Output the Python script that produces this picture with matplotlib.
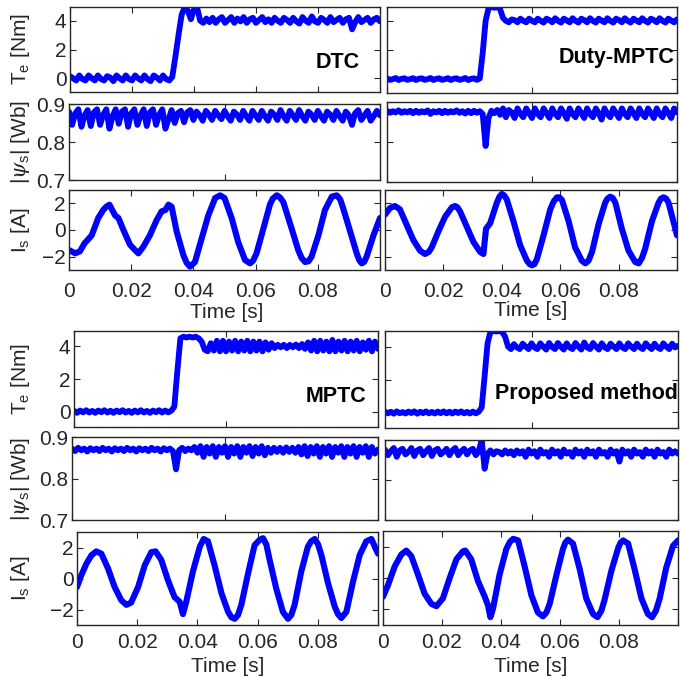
import numpy as np
import matplotlib
matplotlib.use('Agg')
import matplotlib.pyplot as plt

plt.rcParams['font.family'] = ['Liberation Sans', 'DejaVu Sans']
plt.rcParams['mathtext.fontset'] = 'custom'
plt.rcParams['mathtext.rm'] = 'Liberation Sans'
plt.rcParams['mathtext.it'] = 'DejaVu Serif:italic'

# ---------------- data ----------------
methods = ['DTC', 'Duty-MPTC', 'MPTC', 'Proposed method']
t_fine = np.round(np.arange(101) * 0.001, 3)   # sampling grid for torque / flux

te_dtc = [0.15, 0.00, -0.15, 0.20, -0.05, -0.15, 0.20, 0.00, -0.15, 0.20,
          -0.05, -0.15, 0.15, 0.05, -0.20, 0.20, 0.00, -0.15, 0.20, -0.05,
          -0.15, 0.20, 0.00, -0.15, 0.20, -0.05, -0.20, 0.20, 0.05, -0.15,
          0.20, -0.05, -0.15, 0.10, 1.50, 3.00, 4.40, 4.95, 4.70, 4.10,
          4.80, 4.90, 4.00, 3.85, 4.15, 3.90, 4.20, 3.85, 4.10, 4.25,
          3.85, 4.05, 4.25, 3.85, 4.15, 3.95, 4.25, 3.85, 4.10, 4.20,
          3.85, 4.05, 4.25, 3.90, 4.10, 3.85, 4.20, 4.00, 3.85, 4.20,
          4.05, 3.85, 4.20, 3.95, 3.80, 4.25, 4.00, 3.85, 4.30, 3.95,
          3.85, 4.20, 4.05, 3.85, 4.25, 3.90, 4.05, 4.20, 3.85, 4.10,
          4.20, 3.40, 3.90, 4.25, 3.90, 4.05, 4.20, 3.85, 4.10, 4.20, 3.95]
te_duty = [0.05, -0.05, 0.00, 0.08, -0.06, 0.02, 0.06, -0.05, 0.00, 0.07,
           -0.06, 0.03, 0.06, -0.05, 0.00, 0.08, -0.06, 0.02, 0.06, -0.05,
           0.00, 0.07, -0.06, 0.03, 0.06, -0.05, 0.00, 0.08, -0.06, 0.02,
           0.06, -0.05, 0.05, 1.80, 4.00, 4.85, 4.95, 4.90, 4.95, 4.80,
           4.20, 4.00, 3.90, 4.10, 4.05, 3.90, 4.15, 4.00, 3.90, 4.15,
           4.00, 3.90, 4.15, 4.00, 3.88, 4.15, 4.05, 3.90, 4.18, 4.00,
           3.88, 4.15, 4.02, 3.90, 4.18, 4.00, 3.88, 4.15, 4.05, 3.90,
           4.18, 4.00, 3.88, 4.15, 4.02, 3.90, 4.18, 4.00, 3.88, 4.15,
           4.05, 3.90, 4.18, 4.00, 3.88, 4.15, 4.02, 3.90, 4.18, 4.00,
           3.88, 4.15, 4.05, 3.90, 4.18, 4.00, 3.88, 4.15, 4.02, 3.90, 4.10]
te_mptc = [0.05, -0.08, 0.06, -0.05, 0.08, -0.06, 0.04, -0.08, 0.06, -0.04,
           0.08, -0.06, 0.05, -0.08, 0.06, -0.04, 0.08, -0.06, 0.04, -0.08,
           0.06, -0.05, 0.08, -0.06, 0.04, -0.08, 0.06, -0.04, 0.08, -0.06,
           0.06, -0.05, 0.05, 0.30, 2.50, 4.50, 4.60, 4.55, 4.60, 4.55,
           4.60, 4.50, 4.30, 3.80, 3.70, 4.20, 3.75, 4.35, 3.70, 4.35,
           3.70, 4.30, 3.75, 4.35, 3.70, 4.30, 3.75, 4.35, 3.70, 4.30,
           3.75, 4.30, 3.70, 4.25, 3.80, 4.20, 3.90, 4.10, 3.95, 4.10,
           3.90, 4.10, 3.95, 4.12, 3.90, 4.15, 3.85, 4.25, 3.75, 4.35,
           3.70, 4.35, 3.75, 4.30, 3.70, 4.40, 3.70, 4.30, 3.75, 4.35,
           3.70, 4.30, 3.75, 4.35, 3.70, 4.25, 3.80, 4.35, 3.70, 4.30, 3.85]
te_prop = [0.05, -0.06, 0.04, -0.08, 0.06, -0.05, 0.02, -0.07, 0.05, -0.04,
           0.06, -0.08, 0.04, -0.05, 0.06, -0.06, 0.03, -0.07, 0.05, -0.05,
           0.06, -0.06, 0.04, -0.07, 0.05, -0.04, 0.06, -0.06, 0.03, -0.07,
           0.05, -0.06, 0.04, 0.30, 2.20, 4.20, 4.90, 4.95, 4.92, 4.95,
           4.90, 4.60, 4.00, 3.85, 4.15, 3.95, 3.85, 4.18, 4.00, 3.85,
           4.20, 3.95, 3.85, 4.20, 4.00, 3.82, 4.22, 3.98, 3.85, 4.22,
           4.00, 3.82, 4.20, 3.95, 3.85, 4.22, 4.00, 3.82, 4.25, 3.95,
           3.85, 4.22, 4.00, 3.82, 4.20, 3.95, 3.85, 4.18, 4.00, 3.85,
           4.20, 3.95, 3.85, 4.20, 4.00, 3.85, 4.18, 3.95, 3.85, 4.20,
           4.00, 3.85, 4.18, 3.95, 3.85, 4.20, 4.00, 3.85, 4.18, 3.95, 4.05]

psi_dtc = [0.880, 0.845, 0.875, 0.886, 0.840, 0.870, 0.884, 0.842, 0.878, 0.886,
           0.845, 0.872, 0.886, 0.835, 0.868, 0.886, 0.848, 0.880, 0.886, 0.840,
           0.875, 0.886, 0.845, 0.870, 0.886, 0.842, 0.878, 0.886, 0.845, 0.872,
           0.886, 0.835, 0.860, 0.884, 0.850, 0.876, 0.882, 0.852, 0.878, 0.884,
           0.858, 0.880, 0.870, 0.856, 0.882, 0.872, 0.858, 0.882, 0.870, 0.860,
           0.882, 0.868, 0.856, 0.880, 0.872, 0.858, 0.882, 0.868, 0.856, 0.882,
           0.870, 0.858, 0.882, 0.868, 0.856, 0.880, 0.872, 0.858, 0.884, 0.868,
           0.856, 0.882, 0.870, 0.858, 0.884, 0.868, 0.856, 0.880, 0.872, 0.858,
           0.882, 0.868, 0.856, 0.880, 0.872, 0.858, 0.882, 0.868, 0.856, 0.880,
           0.870, 0.845, 0.876, 0.884, 0.858, 0.870, 0.882, 0.856, 0.868, 0.882, 0.870]
psi_duty = [0.878, 0.873, 0.877, 0.874, 0.879, 0.873, 0.877, 0.874, 0.878, 0.872,
            0.878, 0.873, 0.877, 0.874, 0.879, 0.870, 0.877, 0.874, 0.878, 0.872,
            0.878, 0.873, 0.877, 0.874, 0.879, 0.873, 0.877, 0.871, 0.878, 0.872,
            0.878, 0.873, 0.877, 0.870, 0.790, 0.860, 0.878, 0.872, 0.880, 0.868,
            0.884, 0.862, 0.880, 0.874, 0.860, 0.884, 0.870, 0.862, 0.884, 0.872,
            0.860, 0.884, 0.870, 0.862, 0.884, 0.872, 0.860, 0.884, 0.870, 0.862,
            0.884, 0.872, 0.858, 0.884, 0.870, 0.862, 0.884, 0.872, 0.860, 0.884,
            0.870, 0.862, 0.884, 0.872, 0.856, 0.884, 0.870, 0.862, 0.884, 0.872,
            0.860, 0.884, 0.870, 0.862, 0.884, 0.872, 0.860, 0.884, 0.870, 0.862,
            0.884, 0.872, 0.860, 0.884, 0.870, 0.862, 0.884, 0.872, 0.860, 0.884, 0.874]
psi_mptc = [0.872, 0.866, 0.874, 0.868, 0.872, 0.865, 0.873, 0.868, 0.872, 0.866,
            0.874, 0.868, 0.872, 0.865, 0.873, 0.868, 0.872, 0.866, 0.874, 0.868,
            0.872, 0.865, 0.873, 0.868, 0.872, 0.866, 0.874, 0.868, 0.872, 0.865,
            0.873, 0.868, 0.872, 0.866, 0.822, 0.868, 0.874, 0.866, 0.872, 0.868,
            0.876, 0.862, 0.878, 0.852, 0.876, 0.860, 0.878, 0.852, 0.876, 0.862,
            0.878, 0.852, 0.876, 0.860, 0.878, 0.852, 0.876, 0.862, 0.878, 0.854,
            0.876, 0.860, 0.878, 0.856, 0.874, 0.862, 0.874, 0.864, 0.874, 0.862,
            0.875, 0.864, 0.874, 0.862, 0.876, 0.858, 0.878, 0.854, 0.876, 0.860,
            0.878, 0.852, 0.876, 0.860, 0.878, 0.852, 0.876, 0.862, 0.878, 0.852,
            0.876, 0.860, 0.878, 0.852, 0.876, 0.862, 0.878, 0.852, 0.876, 0.860, 0.870]
psi_prop = [0.876, 0.862, 0.872, 0.880, 0.858, 0.874, 0.878, 0.864, 0.870, 0.880,
            0.860, 0.874, 0.878, 0.862, 0.872, 0.880, 0.860, 0.874, 0.878, 0.864,
            0.870, 0.878, 0.862, 0.874, 0.880, 0.862, 0.872, 0.878, 0.864, 0.874,
            0.878, 0.862, 0.872, 0.900, 0.828, 0.866, 0.874, 0.864, 0.872, 0.870,
            0.864, 0.874, 0.866, 0.872, 0.862, 0.874, 0.866, 0.872, 0.858, 0.876,
            0.866, 0.872, 0.858, 0.876, 0.866, 0.870, 0.858, 0.876, 0.866, 0.872,
            0.858, 0.876, 0.866, 0.870, 0.858, 0.876, 0.866, 0.872, 0.858, 0.876,
            0.866, 0.872, 0.858, 0.876, 0.866, 0.870, 0.858, 0.876, 0.866, 0.872,
            0.846, 0.876, 0.866, 0.872, 0.858, 0.876, 0.866, 0.870, 0.858, 0.876,
            0.866, 0.872, 0.858, 0.876, 0.866, 0.870, 0.858, 0.876, 0.866, 0.872, 0.866]

is_dtc_t = [0.0, 0.002, 0.0035, 0.005, 0.0073, 0.0094, 0.011, 0.012, 0.013, 0.0148,
            0.0159, 0.0175, 0.0196, 0.0212, 0.0223, 0.0239, 0.026, 0.0282, 0.0298, 0.031,
            0.032, 0.033, 0.0346, 0.0368, 0.0378, 0.0389, 0.0405, 0.0427, 0.0448, 0.047,
            0.0486, 0.05, 0.0523, 0.0544, 0.0566, 0.0582, 0.0592, 0.0603, 0.0625, 0.0646,
            0.0655, 0.0668, 0.0678, 0.0689, 0.0716, 0.0737, 0.0748, 0.0759, 0.077, 0.078,
            0.0802, 0.0823, 0.0845, 0.0861, 0.0872, 0.0882, 0.0904, 0.0925, 0.0933, 0.0941,
            0.0949, 0.0957, 0.0979, 0.1]
is_dtc_v = [-1.5, -1.75, -1.6, -1.0, -0.4, 0.9, 1.5, 1.75, 1.9, 1.1,
            0.9, 0.0, -1.1, -1.5, -1.75, -1.25, -0.4, 0.75, 1.4, 1.5,
            1.9, 1.75, -0.1, -1.9, -2.45, -2.75, -2.4, -0.6, 1.1, 2.4,
            2.6, 2.4, 0.9, -0.9, -2.25, -2.5, -2.3, -1.75, 0.1, 1.9,
            2.35, 2.6, 2.45, 2.1, 0.1, -1.5, -2.1, -2.4, -2.35, -2.0,
            -0.4, 1.5, 2.5, 2.6, 2.3, 1.6, -0.1, -1.75, -2.25, -2.5,
            -2.4, -2.0, -0.4, 0.9]
is_duty_t = [0.0, 0.0017, 0.0034, 0.0051, 0.0074, 0.0097, 0.012, 0.0137, 0.015, 0.016,
             0.0183, 0.0206, 0.0229, 0.024, 0.0248, 0.0257, 0.028, 0.0303, 0.0326, 0.0337,
             0.0346, 0.036, 0.0383, 0.0392, 0.04, 0.0408, 0.0417, 0.044, 0.0463, 0.0486,
             0.0495, 0.0503, 0.0512, 0.052, 0.0543, 0.0566, 0.0578, 0.0589, 0.0597, 0.0606,
             0.0629, 0.0651, 0.0674, 0.0686, 0.0697, 0.0709, 0.0731, 0.0754, 0.0762, 0.0771,
             0.078, 0.0789, 0.0811, 0.0834, 0.0857, 0.0869, 0.088, 0.0891, 0.0914, 0.0937,
             0.0945, 0.0954, 0.0963, 0.0971, 0.1]
is_duty_v = [1.15, 1.65, 1.8, 1.55, 0.4, -0.75, -1.55, -1.8, -1.65, -1.3,
             -0.1, 1.0, 1.7, 1.8, 1.7, 1.4, 0.25, -0.9, -1.65, -1.8,
             0.1, 0.5, 2.05, 2.5, 2.7, 2.6, 2.3, 0.65, -1.15, -2.3,
             -2.55, -2.65, -2.55, -2.2, -0.4, 1.55, 2.15, 2.45, 2.45, 2.25,
             0.65, -1.3, -2.3, -2.5, -2.3, -1.65, 0.4, 2.05, 2.35, 2.5,
             2.4, 2.05, 0.1, -1.55, -2.4, -2.5, -2.1, -1.4, 0.65, 2.05,
             2.35, 2.45, 2.35, 2.05, -0.4]
is_mptc_t = [0.0, 0.0014, 0.0031, 0.0048, 0.0064, 0.0081, 0.0103, 0.0125, 0.0147, 0.0164,
             0.018, 0.0203, 0.0225, 0.0247, 0.0261, 0.028, 0.0302, 0.0324, 0.0341, 0.0352,
             0.0363, 0.0385, 0.0408, 0.0421, 0.0435, 0.0457, 0.048, 0.0502, 0.0513, 0.0524,
             0.0535, 0.0546, 0.0568, 0.059, 0.0607, 0.0618, 0.0629, 0.064, 0.0662, 0.0684,
             0.0701, 0.0712, 0.0723, 0.0745, 0.0767, 0.0778, 0.079, 0.0801, 0.0812, 0.0834,
             0.0856, 0.0867, 0.0878, 0.0895, 0.0917, 0.0939, 0.0961, 0.0978, 0.1]
is_mptc_v = [-0.55, 0.2, 0.95, 1.5, 1.75, 1.6, 0.65, -0.55, -1.4, -1.7,
             -1.55, -0.55, 0.85, 1.7, 1.75, 1.2, -0.1, -1.2, -1.5, -2.3,
             -1.5, 0.45, 2.05, 2.55, 2.4, 0.85, -0.95, -2.15, -2.5, -2.6,
             -2.35, -1.7, 0.3, 2.15, 2.5, 2.6, 2.2, 1.2, -0.65, -2.15,
             -2.6, -2.35, -1.7, 0.45, 2.05, 2.4, 2.55, 2.2, 1.5, -0.3,
             -1.8, -2.3, -2.55, -2.15, -0.2, 1.5, 2.4, 2.55, 1.6]
is_prop_t = [0.0, 0.0017, 0.004, 0.0062, 0.0079, 0.0096, 0.0119, 0.0141, 0.0164, 0.0181,
             0.0203, 0.0226, 0.0249, 0.0271, 0.0279, 0.0299, 0.0322, 0.0345, 0.0356, 0.0364,
             0.0373, 0.0395, 0.0418, 0.043, 0.0441, 0.0458, 0.048, 0.0503, 0.0525, 0.0542,
             0.0554, 0.0565, 0.0588, 0.061, 0.0618, 0.0627, 0.0644, 0.0667, 0.0689, 0.0712,
             0.0727, 0.074, 0.0751, 0.0774, 0.0797, 0.0805, 0.0814, 0.0831, 0.0853, 0.0876,
             0.0898, 0.0912, 0.0925, 0.0938, 0.096, 0.0983, 0.1]
is_prop_v = [-1.2, -0.45, 0.75, 1.5, 1.75, 1.4, 0.2, -1.0, -1.65, -1.8,
             -1.3, 0.0, 1.2, 1.7, 1.75, 1.2, -0.2, -1.2, -1.75, -2.5,
             -1.95, 0.2, 1.85, 2.3, 2.5, 2.4, 0.75, -1.1, -2.2, -2.45,
             -2.2, -1.65, 0.2, 1.85, 2.25, 2.45, 2.2, 0.55, -1.3, -2.3,
             -2.5, -2.1, -1.4, 0.45, 1.9, 2.25, 2.4, 2.2, 0.55, -1.3,
             -2.3, -2.5, -2.1, -1.3, 0.65, 2.05, 2.4]

te_data = [te_dtc, te_duty, te_mptc, te_prop]
psi_data = [psi_dtc, psi_duty, psi_mptc, psi_prop]
is_data = [(is_dtc_t, is_dtc_v), (is_duty_t, is_duty_v),
           (is_mptc_t, is_mptc_v), (is_prop_t, is_prop_v)]

# ---------------- layout (pixel boxes x0, y0, x1, y1) ----------------
W, H = 680, 678
boxes = [
    [(70, 7, 380, 92), (69, 104, 380, 180), (69, 190, 380, 270)],
    [(387, 7, 677, 93), (387, 102, 677, 182), (385, 190, 677, 270)],
    [(74, 331, 378, 427), (72, 437, 378, 520), (77, 532, 378, 625)],
    [(385, 331, 678, 428), (385, 440, 678, 520), (383, 531, 678, 625)],
]
label_pos = [(62, 360), (57, 675), (396, 366), (393, 678)]
time_lbl = [(227, 312), (531, 311), (228, 667), (531, 667)]
xpad = [9, 9, 6, 6]

BLUE = '#0000ff'
TXT = '#262626'
FS = 15

fig = plt.figure(figsize=(W / 100, H / 100), dpi=100)


def add_ax(b):
    x0, y0, x1, y1 = b
    return fig.add_axes([x0 / W, 1 - y1 / H, (x1 - x0) / W, (y1 - y0) / H])


def style(ax, left_labels, pad_x=9):
    for s in ax.spines.values():
        s.set_linewidth(1.0)
        s.set_color(TXT)
    ax.tick_params(direction='in', length=4, width=0.8, top=True, right=True,
                   colors=TXT, labelsize=FS, pad=2.5)
    ax.tick_params(axis='x', pad=pad_x)
    if not left_labels:
        ax.tick_params(axis='y', labelleft=False)


for i in range(4):
    left = i in (0, 2)
    b_te, b_psi, b_is = boxes[i]

    ax = add_ax(b_te)
    ax.plot(t_fine, te_data[i], color=BLUE, lw=4.2, solid_joinstyle='round',
            solid_capstyle='round')
    ax.set_xlim(0, 0.1)
    ax.set_ylim(-0.95, 4.95)
    ax.set_yticks([0, 2, 4])
    ax.set_xticks([0, 0.02, 0.04, 0.06, 0.08, 0.1] if i == 0 else [0, 0.05, 0.1])
    ax.set_xticklabels([])
    style(ax, left)

    ax = add_ax(b_psi)
    ax.plot(t_fine, psi_data[i], color=BLUE, lw=4.2, solid_joinstyle='round',
            solid_capstyle='round')
    ax.set_xlim(0, 0.1)
    ax.set_ylim(0.7, 0.9)
    ax.set_yticks([0.7, 0.8, 0.9])
    ax.set_yticklabels(['0.7', '0.8', '0.9'])
    ax.set_xticks([0, 0.05, 0.1])
    ax.set_xticklabels([])
    style(ax, left)

    ax = add_ax(b_is)
    ax.plot(is_data[i][0], is_data[i][1], color=BLUE, lw=4.4,
            solid_joinstyle='round', solid_capstyle='round')
    ax.set_xlim(0, 0.1)
    ax.set_ylim(-3, 3)
    ax.set_yticks([-2, 0, 2])
    ax.set_xticks([0, 0.02, 0.04, 0.06, 0.08, 0.1])
    ax.set_xticklabels(['0', '0.02', '0.04', '0.06', '0.08', ''])
    style(ax, left, xpad[i])

    ly, lx = label_pos[i]
    fig.text(lx / W, 1 - ly / H, methods[i], ha='right', va='center',
             fontsize=15.5, fontweight='bold', color='black')
    tx, ty = time_lbl[i]
    fig.text(tx / W, 1 - ty / H, 'Time [s]', ha='center', va='center',
             fontsize=FS, color=TXT)

    if left:
        ylx = 20
        for b, txt in zip(boxes[i], [r'T$_\mathregular{e}$ [Nm]',
                                     r'|$\psi_\mathregular{s}$| [Wb]',
                                     r'I$_\mathregular{s}$ [A]']):
            yc = (b[1] + b[3]) / 2
            fig.text(ylx / W, 1 - yc / H, txt, rotation=90, ha='center',
                     va='center', fontsize=FS, color=TXT)

fig.savefig('out.png', dpi=100)
